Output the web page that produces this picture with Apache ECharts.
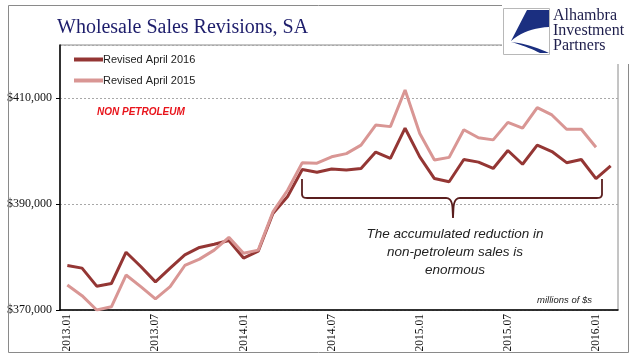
<!DOCTYPE html>
<html>
<head>
<meta charset="utf-8">
<script src="https://cdn.jsdelivr.net/npm/echarts@6/dist/echarts.min.js"></script>
<style>
html,body{margin:0;padding:0;background:#fff;}
#chart{width:641px;height:358px;}
</style>
</head>
<body>
<div id="chart"></div>
<script>
const categories = [
  '2013.01','2013.02','2013.03','2013.04','2013.05','2013.06','2013.07','2013.08','2013.09','2013.10','2013.11','2013.12',
  '2014.01','2014.02','2014.03','2014.04','2014.05','2014.06','2014.07','2014.08','2014.09','2014.10','2014.11','2014.12',
  '2015.01','2015.02','2015.03','2015.04','2015.05','2015.06','2015.07','2015.08','2015.09','2015.10','2015.11','2015.12',
  '2016.01','2016.02'
];
const revisedApril2016 = [
  378400, 377900, 374500, 375000, 380900, 378200, 375300, 377900, 380400, 381800, 382400, 383100,
  379800, 381100, 388200, 391400, 396500, 396000, 396600, 396400, 396700, 399800, 398600, 404300,
  398900, 394800, 394200, 398400, 397900, 396700, 400100, 397500, 401100, 399900, 397800, 398400,
  394800, 397200
];
const revisedApril2015 = [
  374700, 372700, 370000, 370600, 376600, 374400, 372100, 374400, 378400, 379600, 381300, 383700,
  380700, 381300, 388500, 392600, 397800, 397700, 398900, 399500, 401100, 404900, 404600, 411500,
  403300, 398300, 398800, 404000, 402500, 402100, 405400, 404300, 408200, 406800, 404100, 404100,
  400700
];
const yTicks = { min: 370000, max: 420000, interval: 20000 };

// sample a path made of line (L) and quadratic (Q) segments into points
function samplePath(start, segs) {
  const pts = [start.slice()];
  let cur = start.slice();
  segs.forEach(s => {
    if (s.length === 2) { pts.push(s.slice()); cur = s.slice(); }
    else {
      const [cx, cy, x, y] = s;
      for (let t = 1; t <= 10; t++) {
        const u = t / 10;
        pts.push([(1-u)*(1-u)*cur[0] + 2*(1-u)*u*cx + u*u*x, (1-u)*(1-u)*cur[1] + 2*(1-u)*u*cy + u*u*y]);
      }
      cur = [x, y];
    }
  });
  return pts;
}

const chart = echarts.init(document.getElementById('chart'), null, { renderer: 'canvas' });
const serif = '"Liberation Serif", "DejaVu Serif", serif';
const sans = '"Liberation Sans", Arial, sans-serif';

const bracePts = samplePath([302, 179], [[302, 194], [302, 198, 307, 198], [446, 198], [452, 198, 452.5, 208], [453, 218], [453.5, 208], [454, 198, 460, 198], [597, 198], [602, 198, 602, 194], [602, 179]]);
const logoBig = samplePath([527, 10], [[549, 10], [549, 27], [526, 28, 511, 41]]);
const logoSmall = samplePath([511, 42], [[530, 44, 549, 53], [540, 53], [526, 46, 511, 42]]);

const option = {
  backgroundColor: '#fff',
  animation: false,
  grid: { left: 60, top: 45, width: 558, height: 265, show: true, borderColor: '#8a8a8a', borderWidth: 1, backgroundColor: 'transparent' },
  legend: {
    orient: 'vertical', left: 69, top: 49, itemWidth: 29, itemHeight: 4, itemGap: 10,
    icon: 'rect',
    data: ['Revised April 2016', 'Revised April 2015'],
    textStyle: { fontFamily: sans, fontSize: 11, color: '#222', padding: [0, 0, 0, -5] }
  },
  xAxis: {
    type: 'category', data: categories, boundaryGap: true,
    axisLine: { lineStyle: { color: '#000', width: 1.5 } },
    axisTick: { interval: 0, length: 5, lineStyle: { color: '#000' } },
    axisLabel: { interval: 5, rotate: 90, margin: 4, fontFamily: serif, fontSize: 11.5, color: '#111' },
    splitLine: { show: false }
  },
  yAxis: {
    type: 'value', min: yTicks.min, max: yTicks.max, interval: yTicks.interval,
    axisLine: { show: true, lineStyle: { color: '#000', width: 1.5 } },
    axisTick: { show: true, length: 4, lineStyle: { color: '#000' } },
    axisLabel: { showMaxLabel: false, margin: 8, fontFamily: serif, fontSize: 12, color: '#111',
      formatter: v => '$' + v.toLocaleString('en-US') },
    splitLine: { show: true, lineStyle: { color: '#a8a8a8', type: [2, 2], width: 1 } }
  },
  series: [
    { name: 'Revised April 2016', type: 'line', data: revisedApril2016, symbol: 'none',
      lineStyle: { color: '#943634', width: 3 }, itemStyle: { color: '#943634' } },
    { name: 'Revised April 2015', type: 'line', data: revisedApril2015, symbol: 'none',
      lineStyle: { color: '#d99694', width: 3 }, itemStyle: { color: '#d99694' } }
  ],
  graphic: { elements: [
    { type: 'rect', silent: true, z: 100, shape: { x: 8.5, y: 5.5, width: 620, height: 347 },
      style: { fill: 'none', stroke: '#8a8a8a', lineWidth: 1 } },
    { type: 'text', z: 100, x: 57, y: 28,
      style: { text: 'Wholesale Sales Revisions, SA', font: '20px ' + serif, fill: '#1d1d6b', verticalAlign: 'middle' } },
    { type: 'text', z: 100, x: 97, y: 112,
      style: { text: 'NON PETROLEUM', font: 'italic bold 10px ' + sans, fill: '#e8141b', verticalAlign: 'middle' } },
    { type: 'rect', z: 101, shape: { x: 502, y: 0, width: 139, height: 64 }, style: { fill: '#fff' } },
    { type: 'rect', z: 102, shape: { x: 503.5, y: 8.5, width: 46, height: 46 }, style: { fill: '#fff', stroke: '#b8b8b8', lineWidth: 1 } },
    { type: 'polygon', z: 103, shape: { points: logoBig }, style: { fill: '#1b2f80' } },
    { type: 'polygon', z: 103, shape: { points: logoSmall }, style: { fill: '#1b2f80' } },
    { type: 'text', z: 103, x: 553, y: 16, style: { text: 'Alhambra', font: '16px ' + serif, fill: '#1d1d4b', verticalAlign: 'middle' } },
    { type: 'text', z: 103, x: 553, y: 31, style: { text: 'Investment', font: '16px ' + serif, fill: '#1d1d4b', verticalAlign: 'middle' } },
    { type: 'text', z: 103, x: 553, y: 46, style: { text: 'Partners', font: '16px ' + serif, fill: '#1d1d4b', verticalAlign: 'middle' } },
    { type: 'polyline', z: 50, shape: { points: bracePts }, style: { fill: null, stroke: '#5a1e1e', lineWidth: 1.8 } },
    { type: 'text', z: 50, x: 455, y: 252,
      style: { text: 'The accumulated reduction in\nnon-petroleum sales is\nenormous', font: 'italic 13.5px ' + sans,
        fill: '#222', align: 'center', verticalAlign: 'middle', lineHeight: 18 } },
    { type: 'text', z: 50, x: 592, y: 300,
      style: { text: 'millions of $s', font: 'italic 9.5px ' + sans, fill: '#222', align: 'right', verticalAlign: 'middle' } }
  ] }
};
chart.setOption(option);
</script>
</body>
</html>
